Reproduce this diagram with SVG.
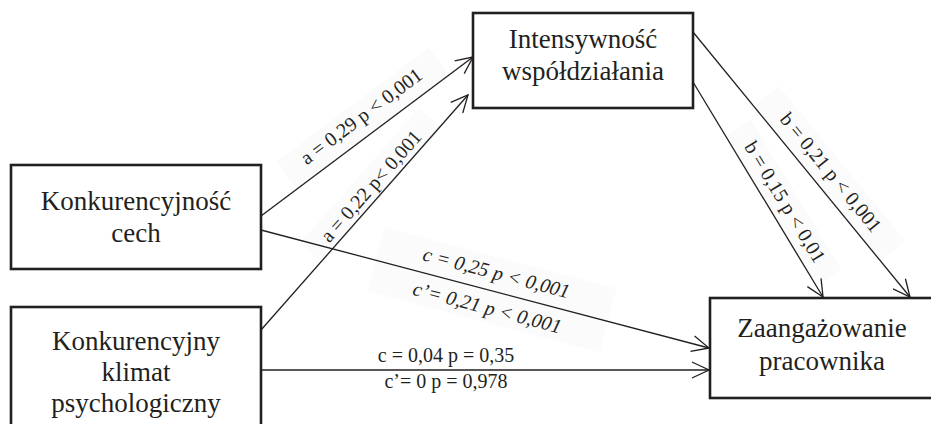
<svg xmlns="http://www.w3.org/2000/svg" width="931" height="424" viewBox="0 0 931 424">
<defs>
<style>
.box{fill:#fff;stroke:#231f20;stroke-width:2.6}
.node{font-family:"Liberation Serif","Times New Roman",serif;font-size:27px;fill:#231f20;text-anchor:middle}
.lbl{font-family:"Liberation Serif","Times New Roman",serif;font-size:20px;fill:#231f20;text-anchor:middle}
.it{font-style:italic}
.edge{stroke:#231f20;stroke-width:1.3;fill:none;marker-end:url(#arr)}
.patch{fill:#fbfbfb}
</style>
<marker id="arr" markerUnits="userSpaceOnUse" markerWidth="24" markerHeight="24" viewBox="-20 -12 24 24" refX="0" refY="0" orient="auto">
<path d="M-17,-8 L0,0 L-17,8" fill="none" stroke="#231f20" stroke-width="1.3"/>
</marker>
</defs>
<rect width="931" height="424" fill="#fff"/>
<g id="patches">
<rect class="patch" x="-95" y="-34" width="190" height="34" transform="translate(373,132) rotate(-36.87)"/>
<rect class="patch" x="-90" y="-28" width="180" height="30" transform="translate(380.4,194.5) rotate(-48.63)"/>
<rect class="patch" x="-120" y="-34" width="240" height="66" transform="translate(491.7,290.8) rotate(14.75)"/>
<rect class="patch" x="-100" y="-32" width="200" height="32" transform="translate(817.2,183.6) rotate(50.69)"/>
<rect class="patch" x="-88" y="-30" width="176" height="30" transform="translate(770.7,210.6) rotate(58.84)"/>
</g>
<g id="n1"><rect class="box" x="11" y="165" width="250" height="104"/><text class="node" x="136" y="210">Konkurencyjność</text><text class="node" x="136" y="242">cech</text></g>
<g id="n2"><rect class="box" x="11" y="307" width="250" height="130"/><text class="node" x="136" y="350">Konkurencyjny</text><text class="node" x="136" y="381">klimat</text><text class="node" x="136" y="412">psychologiczny</text></g>
<g id="n3"><rect class="box" x="473" y="13" width="220" height="95"/><text class="node" x="583" y="48">Intensywność</text><text class="node" x="583" y="80">współdziałania</text></g>
<g id="n4"><rect class="box" x="710" y="298" width="240" height="100"/><text class="node" x="822" y="337">Zaangażowanie</text><text class="node" x="822" y="370">pracownika</text></g>
<g id="connectors">
<line class="edge" x1="261" y1="216" x2="473" y2="57"/>
<line class="edge" x1="261" y1="330" x2="468" y2="95"/>
<line class="edge" x1="261" y1="230" x2="709" y2="348"/>
<line class="edge" x1="261" y1="370" x2="709" y2="370"/>
<line class="edge" x1="693" y1="32" x2="910" y2="297"/>
<line class="edge" x1="693" y1="82" x2="823" y2="297"/>
<text class="lbl" transform="translate(373,132) rotate(-36.87)" y="-13">a = 0,29 p &lt; 0,001</text>
<text class="lbl" transform="translate(380.4,194.5) rotate(-48.63)" y="-6">a = 0,22 p&lt; 0,001</text>
<text class="lbl it" transform="translate(491.7,290.8) rotate(14.75)" y="-12">c = 0,25 p &lt; 0,001</text>
<text class="lbl it" transform="translate(491.7,290.8) rotate(14.75)" y="24">c’= 0,21 p &lt; 0,001</text>
<text class="lbl" x="446" y="362">c = 0,04 p = 0,35</text>
<text class="lbl" x="446" y="388">c’= 0 p = 0,978</text>
<text class="lbl" transform="translate(817.2,183.6) rotate(50.69)" y="-11">b = 0,21 p &lt; 0,001</text>
<text class="lbl" transform="translate(770.7,210.6) rotate(58.84)" y="-10">b = 0,15 p &lt; 0,01</text>
</g>
</svg>
